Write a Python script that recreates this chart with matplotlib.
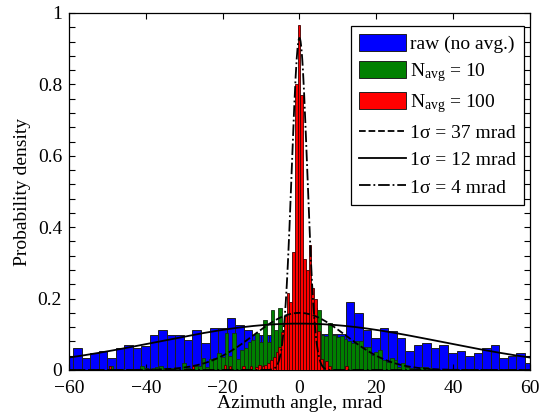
import numpy as np
import matplotlib
matplotlib.use("Agg")
import matplotlib.pyplot as plt
from matplotlib.patches import Patch
from matplotlib.lines import Line2D
from matplotlib.ticker import MultipleLocator, FuncFormatter

plt.rcParams['font.family'] = ['Liberation Serif', 'DejaVu Serif']
plt.rcParams['mathtext.fontset'] = 'custom'
plt.rcParams['mathtext.rm'] = 'Liberation Serif'
plt.rcParams['mathtext.it'] = 'Liberation Serif:italic'
plt.rcParams['axes.unicode_minus'] = True

# ---------------- data ----------------
# raw (no averaging) histogram: bin start, bin width, heights
blue_start = -61.1
blue_width = 2.217
blue_heights = [0.039, 0.062, 0.033, 0.047, 0.054, 0.033, 0.062, 0.069, 0.062, 0.068,
                0.097, 0.111, 0.097, 0.097, 0.083, 0.111, 0.075, 0.118, 0.118, 0.147,
                0.127, 0.113, 0.098, 0.098, 0.097, 0.110, 0.120, 0.125, 0.120, 0.110,
                0.100, 0.100, 0.100, 0.190, 0.161, 0.112, 0.090, 0.118, 0.110, 0.090,
                0.054, 0.069, 0.076, 0.061, 0.069, 0.047, 0.054, 0.039, 0.047, 0.061,
                0.069, 0.033, 0.039, 0.047, 0.019]

# N_avg = 10 histogram
green_start = -49.5
green_width = 1.0
green_heights = [0.011, 0.0, 0.0, 0.0, 0.0, 0.0, 0.0, 0.0, 0.011, 0.005,
                 0.0, 0.005, 0.007, 0.010, 0.005, 0.0, 0.005, 0.004, 0.0, 0.019,
                 0.005, 0.004, 0.010, 0.010, 0.033, 0.008, 0.030, 0.033, 0.047, 0.036,
                 0.103, 0.040, 0.103, 0.030, 0.056, 0.061, 0.079, 0.084, 0.105, 0.079,
                 0.140, 0.079, 0.168, 0.112, 0.173, 0.107, 0.150, 0.160, 0.150,
                 0.150, 0.160, 0.170, 0.170, 0.175, 0.168, 0.098, 0.095, 0.131, 0.098,
                 0.092, 0.096, 0.088, 0.080, 0.075, 0.080, 0.082, 0.065, 0.065, 0.042,
                 0.051, 0.056, 0.028, 0.023, 0.033, 0.028, 0.008, 0.019, 0.008, 0.005,
                 0.004, 0.002, 0.008, 0.008, 0.005]

# N_avg = 100 histogram (non-empty bins only)
red_width = 0.72
red_centers = [-49.3, -27.7, -19.4, -18.1, -14.6, -12.6, -11.2, -10.4,
               -9.47, -8.75, -8.03, -7.31, -6.59, -5.87, -5.15, -4.43, -3.71, -2.99,
               -2.27, -1.55, -0.83, -0.11, 0.61, 1.33, 2.05, 2.77, 3.49, 4.21, 4.93,
               5.65, 7.09, 7.81, 12.3]
red_heights = [0.012, 0.010, 0.015, 0.012, 0.010, 0.012, 0.008, 0.015,
               0.012, 0.015, 0.020, 0.028, 0.037, 0.050, 0.065, 0.107, 0.150, 0.217,
               0.190, 0.330, 0.800, 0.965, 0.770, 0.310, 0.280, 0.350, 0.230, 0.200, 0.110,
               0.030, 0.025, 0.010, 0.010]

# Gaussian fit curves (peak height, sigma in mrad) and legend labels
fit_peaks = [0.16, 0.13, 0.93]
fit_sigmas = [12.0, 37.0, 2.0]
fit_labels = ['1σ = 37 mrad', '1σ = 12 mrad', '1σ = 4 mrad']
fit_styles = ['--', '-', '-.']

hist_labels = ['raw (no avg.)', r'N$_{\mathrm{avg}}$ = 10', r'N$_{\mathrm{avg}}$ = 100']
hist_colors = ['#0000FF', '#008000', '#FF0000']

xticks = [-60, -40, -20, 0, 20, 40, 60]
yticks = [0, 0.2, 0.4, 0.6, 0.8, 1.0]

# ---------------- figure ----------------
fig = plt.figure(figsize=(5.43, 4.16), dpi=100)
ax = fig.add_axes([0.127, 0.1106, 0.849, 0.8582])

blue_left = blue_start + blue_width * np.arange(len(blue_heights))
green_left = green_start + green_width * np.arange(len(green_heights))

ax.bar(blue_left, blue_heights, width=blue_width, align='edge',
       color=hist_colors[0], edgecolor='#202020', linewidth=0.7, zorder=1)
ax.bar(green_left, green_heights, width=green_width, align='edge',
       color=hist_colors[1], edgecolor='#103010', linewidth=0.6, zorder=2)
ax.bar(red_centers, red_heights, width=red_width, align='center',
       color=hist_colors[2], edgecolor='#400000', linewidth=0.6, zorder=3)

xs = np.linspace(-60, 60, 1201)
for pk, sg, ls in zip(fit_peaks, fit_sigmas, fit_styles):
    ax.plot(xs, pk * np.exp(-xs ** 2 / (2 * sg ** 2)), color='k', ls=ls,
            lw=1.3, zorder=4)

ax.set_xlim(-60, 60)
ax.set_ylim(0, 1)
ax.set_xticks(xticks)
ax.set_yticks(yticks)
ax.yaxis.set_minor_locator(MultipleLocator(0.04))
ax.yaxis.set_major_formatter(FuncFormatter(lambda v, p: '%g' % v))
ax.tick_params(which='both', direction='in', top=True, right=True,
               labelsize=14, length=4, width=0.8)
ax.tick_params(axis='x', pad=7)
ax.tick_params(axis='y', pad=5)
for s in ax.spines.values():
    s.set_linewidth(0.9)

ax.set_xlabel('Azimuth angle, mrad', fontsize=14, labelpad=-1)
ax.set_ylabel('Probability density', fontsize=14, labelpad=5)

handles = [Patch(facecolor=c, edgecolor='#202020', linewidth=0.7) for c in hist_colors]
handles += [Line2D([], [], color='k', ls=ls, lw=1.3) for ls in ['--', '-', '-.']]
leg = ax.legend(handles, hist_labels + fit_labels, loc='upper right',
                bbox_to_anchor=(0.987, 0.9636), borderaxespad=0, fontsize=14,
                frameon=True, fancybox=False, edgecolor='k', framealpha=1,
                handlelength=2.45, handleheight=0.95, labelspacing=0.42,
                handletextpad=0.2, borderpad=0.4)
leg.get_frame().set_linewidth(0.9)

fig.savefig('out.png', dpi=100)
